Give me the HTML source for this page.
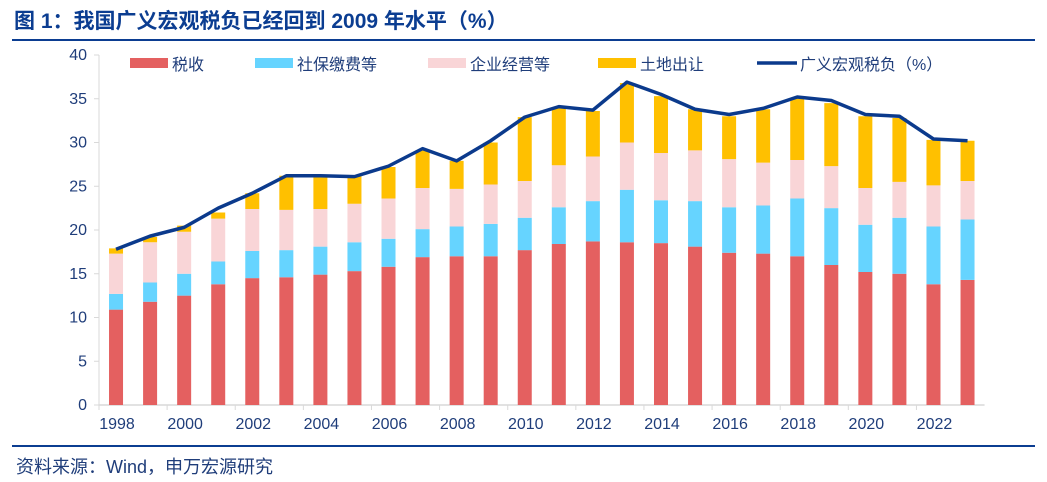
<!DOCTYPE html>
<html><head><meta charset="utf-8"><style>
body{margin:0;background:#fff;width:1047px;height:477px;overflow:hidden;font-family:"Liberation Sans","Noto Sans CJK SC",sans-serif}
</style></head><body>
<svg id="c" width="1047" height="477" xmlns="http://www.w3.org/2000/svg">
<text x="14" y="28" font-size="21" font-weight="bold" fill="#0b3d91" font-family="Liberation Sans, Noto Sans CJK SC, sans-serif">图 1：我国广义宏观税负已经回到 2009 年水平（%）</text>
<line x1="12" y1="40" x2="1035" y2="40" stroke="#0b3d91" stroke-width="2"/>
<line x1="12" y1="446" x2="1035" y2="446" stroke="#0b3d91" stroke-width="2"/>
<text x="16" y="473" font-size="18" fill="#1f3d7a" font-family="Liberation Sans, Noto Sans CJK SC, sans-serif">资料来源：Wind，申万宏源研究</text>
<g id="plot"></g>
</svg>
<script>
const years=[1998,1999,2000,2001,2002,2003,2004,2005,2006,2007,2008,2009,2010,2011,2012,2013,2014,2015,2016,2017,2018,2019,2020,2021,2022,2023];
const tax=[10.9,11.8,12.5,13.8,14.5,14.6,14.9,15.3,15.8,16.9,17.0,17.0,17.7,18.4,18.7,18.6,18.5,18.1,17.4,17.3,17.0,16.0,15.2,15.0,13.8,14.3];
const social=[1.8,2.2,2.5,2.6,3.1,3.1,3.2,3.3,3.2,3.2,3.4,3.7,3.7,4.2,4.6,6.0,4.9,5.2,5.2,5.5,6.6,6.5,5.4,6.4,6.6,6.9];
const enterprise=[4.6,4.6,4.8,4.9,4.8,4.6,4.3,4.4,4.6,4.7,4.3,4.5,4.2,4.8,5.1,5.4,5.4,5.8,5.5,4.9,4.4,4.8,4.2,4.1,4.7,4.4];
const land=[0.6,0.6,0.7,0.7,1.8,3.9,3.8,3.2,3.6,4.3,3.2,4.8,7.3,6.5,5.2,6.8,6.5,4.7,4.9,6.1,7.0,7.2,8.2,7.3,5.2,4.6];
const burden=[17.8,19.3,20.3,22.5,24.2,26.2,26.2,26.1,27.3,29.3,27.9,30.2,32.9,34.1,33.7,36.9,35.5,33.8,33.2,33.9,35.2,34.8,33.2,33.0,30.4,30.2];
const yTicks=[0,5,10,15,20,25,30,35,40];
const seriesNames=['税收','社保缴费等','企业经营等','土地出让'];
const colors=['#e46060','#66d4ff','#f9d5d7','#ffc000'];
const NS='http://www.w3.org/2000/svg';
const g=document.getElementById('plot');
const X0=99,BW=34.06,Y0=405,YS=8.75,BAR=14;
const xc=i=>X0+BW*(i+0.5);
const y=v=>Y0-v*YS;
function mk(t,a,txt){const e=document.createElementNS(NS,t);for(const k in a)e.setAttribute(k,a[k]);if(txt!==undefined)e.textContent=txt;g.appendChild(e);return e;}
let e=mk('line',{x1:X0,y1:y(40),x2:X0,y2:Y0,stroke:'#d9d9d9','stroke-width':1});

e=mk('line',{x1:X0,y1:Y0,x2:X0+BW*years.length,y2:Y0,stroke:'#d9d9d9','stroke-width':1.5});

yTicks.forEach(v=>{
 e=mk('line',{x1:X0-5,y1:y(v),x2:X0,y2:y(v),stroke:'#d9d9d9'});
 
 e=mk('text',{x:X0-12,y:y(v)+5,'font-size':16,fill:'#1f3d7a','text-anchor':'end'},v);
 
});
years.forEach((yr,i)=>{
 if(i%2===0){
  e=mk('line',{x1:X0+BW*i,y1:Y0,x2:X0+BW*i,y2:Y0+5,stroke:'#d9d9d9'});
  
  e=mk('text',{x:xc(i)+1,y:Y0+24,'font-size':16,fill:'#1f3d7a','text-anchor':'middle'},yr);
  
 }
 let base=0;
 [tax,social,enterprise,land].forEach((s,k)=>{
  const v=s[i];
  e=mk('rect',{x:xc(i)-BAR/2,y:y(base+v),width:BAR,height:v*YS,fill:colors[k]});
  
  
  base+=v;
 });
});
e=mk('polyline',{points:burden.map((v,i)=>xc(i)+','+y(v)).join(' '),fill:'none',stroke:'#0b3a8c','stroke-width':3.5,'stroke-linejoin':'round'});

const lx=[130,255,428,598];
seriesNames.forEach((n,k)=>{
 e=mk('rect',{x:lx[k],y:58,width:38,height:10,fill:colors[k]});
 
 e=mk('text',{x:lx[k]+42,y:70,'font-size':16,fill:'#1f3d7a'},n);
 
});
e=mk('line',{x1:757,y1:63,x2:797,y2:63,stroke:'#0b3a8c','stroke-width':3.5});

e=mk('text',{x:800,y:70,'font-size':16,fill:'#1f3d7a'},'广义宏观税负（%）');

</script>
</body></html>
